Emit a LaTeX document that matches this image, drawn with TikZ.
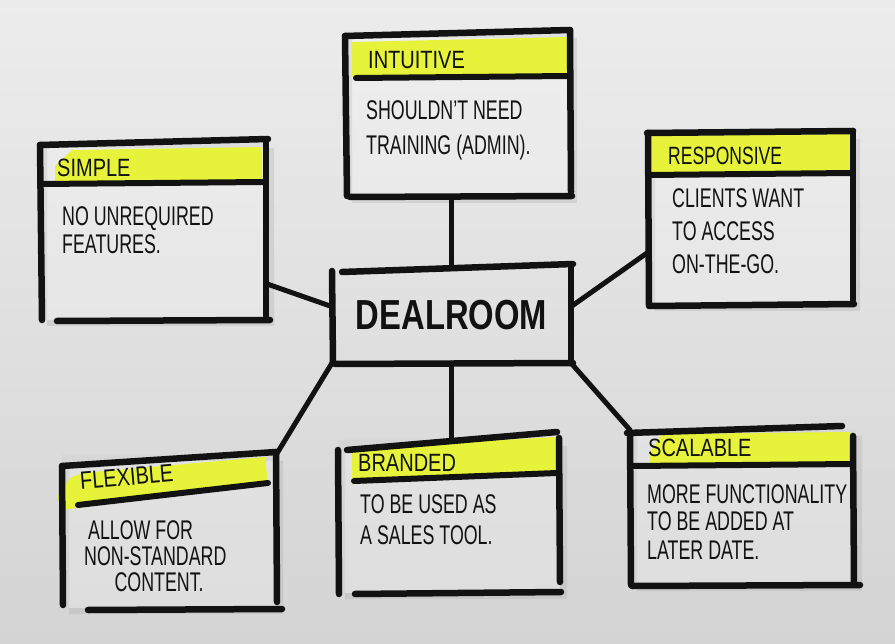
\documentclass[tikz,border=0pt]{standalone}
\usepackage{fontspec}
\setmainfont{Liberation Sans}
\usetikzlibrary{calc}
\definecolor{ink}{RGB}{18,18,18}
\definecolor{papertop}{RGB}{236,236,236}
\definecolor{paperbot}{RGB}{212,212,212}
\definecolor{hlyellow}{RGB}{230,243,58}
\definecolor{shadowgray}{RGB}{170,170,170}
\newcommand\narrow[1]{\scalebox{0.66}[1]{#1}}
\newcommand\tnarrow[1]{\scalebox{0.8}[1]{#1}}
\newcommand\lines[1]{\narrow{\begin{tabular}[t]{@{}l@{}}#1\end{tabular}}}
\tikzset{
  card/.style={rectangle, inner sep=0pt, outer sep=0pt, draw=none},
  side/.style={draw=ink, line width=6.5pt, line cap=round},
  rule/.style={draw=ink, line width=6pt, line cap=round},
  conn/.style={draw=ink, line width=5pt, line cap=round},
  hl/.style={fill=hlyellow},
  cardshade/.style={fill=shadowgray, fill opacity=0.3, even odd rule},
  cardlight/.style={fill=white, fill opacity=0.2},
  title/.style={anchor=west, inner sep=0pt, text=ink, font=\fontsize{25}{28}\selectfont},
  body/.style={anchor=base west, inner sep=0pt, text=ink, font=\fontsize{27}{#1}\selectfont},
  body/.default=31,
}
\begin{document}
\begin{tikzpicture}[x=1pt,y=-1pt]
\useasboundingbox (0,0) rectangle (895,644);
\shade[top color=papertop, bottom color=paperbot] (0,0) rectangle (895,644);

% ---- card nodes (anchors) ----
\node[card, minimum width=225pt, minimum height=165pt] (intuitive) at (457.5,114.5) {};
\node[card, minimum width=227pt, minimum height=178pt] (simple) at (153.5,231) {};
\node[card, minimum width=205pt, minimum height=172pt] (responsive) at (750.5,219) {};
\node[card, minimum width=214pt, minimum height=153pt] (flexible) at (169,531.5) {};
\node[card, minimum width=222pt, minimum height=153pt] (branded) at (449,516.5) {};
\node[card, minimum width=225pt, minimum height=155pt] (scalable) at (742.5,507.5) {};

% ---- shadows and light interiors ----
\foreach \c in {intuitive,simple,responsive,flexible,branded,scalable}{
  \fill[cardshade] ($(\c.north west)+(7,6)$) rectangle ($(\c.south east)+(7,6)$)
                   (\c.north west) rectangle (\c.south east);
  \fill[cardlight] (\c.north west) rectangle (\c.south east);
}

% ---- highlighter bands ----
\fill[hl] (352,42) -- (568,37) -- (569,74) -- (352,77) -- cycle;
\fill[hl] (72,150) -- (262,147) -- (262,183) -- (55,184) -- (55,166) -- cycle;
\fill[hl] (651,136) -- (851,134) -- (851,172) -- (651,174) -- cycle;
\fill[hl] (82,473) -- (265,457) -- (268,483) -- (62,510) -- (57,497) -- (70,478) -- cycle;
\fill[hl] (352,448) -- (557,437) -- (557,472) -- (352,484) -- cycle;
\fill[hl] (662,434) -- (850,432) -- (850,463) -- (650,465) -- (650,452) -- cycle;

% ---- intuitive ----
\draw[side] (345,36) -- (570,30);
\draw[side] (345,36) -- (347,196);
\draw[side] (570,30) -- (571,192);
\draw[side] (350,197) -- (572,196);
\draw[rule] (356,78) -- (569,76);
\node[title] (intuitive-title) at (368,60) {\tnarrow{INTUITIVE}};
\node[body=35] (intuitive-body) at (366,120) {\lines{SHOULDN'T NEED\\TRAINING (ADMIN).}};

% ---- simple ----
\draw[side] (40,145) -- (268,139);
\draw[side] (40,145) -- (42,320);
\draw[side] (266,140) -- (266,316);
\draw[side] (57,321) -- (270,320);
\draw[rule] (42,184) -- (264,182);
\node[title] (simple-title) at (57,168) {\tnarrow{SIMPLE}};
\node[body=28] (simple-body) at (62,226) {\lines{NO UNREQUIRED\\FEATURES.}};

% ---- responsive ----
\draw[side] (647,133) -- (853,131);
\draw[side] (648,133) -- (649,306);
\draw[side] (853,131) -- (853,300);
\draw[side] (650,306) -- (854,304);
\draw[rule] (649,175) -- (852,173);
\node[title] (responsive-title) at (668,156) {\scalebox{0.7}[1]{RESPONSIVE}};
\node[body=33] (responsive-body) at (672,208) {\lines{CLIENTS WANT\\TO ACCESS\\ON-THE-GO.}};

% ---- flexible ----
\draw[side] (62,466) -- (276,452);
\draw[side] (62,466) -- (63,605);
\draw[side] (276,452) -- (277,602);
\draw[side] (88,610) -- (282,609);
\draw[rule] (78,505) -- (268,483);
\node[title, rotate=5] (flexible-title) at (80,481) {\tnarrow{FLEXIBLE}};
\node[body=25] (flexible-body) at (84,539) {\lines{\hspace*{6pt}ALLOW FOR\\NON-STANDARD\\\hspace*{46pt}CONTENT.}};

% ---- branded ----
\draw[side] (347,450) -- (557,432);
\draw[side] (338,450) -- (339,594);
\draw[side] (559,438) -- (560,582);
\draw[side] (355,594) -- (561,592);
\draw[rule] (354,481) -- (557,473);
\node[title] (branded-title) at (358,463) {\tnarrow{BRANDED}};
\node[body=31] (branded-body) at (360,513) {\lines{TO BE USED AS\\A SALES TOOL.}};

% ---- scalable ----
\draw[side] (627,433) -- (842,426);
\draw[side] (630,433) -- (631,585);
\draw[side] (853,436) -- (854,583);
\draw[side] (632,586) -- (860,585);
\draw[rule] (633,466) -- (853,464);
\node[title] (scalable-title) at (648,448) {\tnarrow{SCALABLE}};
\node[body=28] (scalable-body) at (647,503) {\lines{MORE FUNCTIONALITY\\TO BE ADDED AT\\LATER DATE.}};

% ---- dealroom ----
\node[card, minimum width=239pt, minimum height=96pt, text=ink,
      font=\bfseries\fontsize{42}{46}\selectfont] (dealroom) at (451.5,315)
      {\scalebox{0.78}[1]{DEALROOM}};
\draw[side] (342,272) -- (573,264);
\draw[side] (332,271) -- (333,363);
\draw[side] (571,265) -- (571,360);
\draw[side] (335,364) -- (573,363);

% ---- connectors ----
\draw[conn] (dealroom.north |- intuitive.south) -- (dealroom.north);
\draw[conn] (simple.-25) -- (dealroom.176);
\draw[conn] (responsive.198) -- (dealroom.4);
\draw[conn] (dealroom.south west) -- (flexible.north east);
\draw[conn] (dealroom.south) -- (dealroom.south |- branded.north);
\draw[conn] (dealroom.south east) -- (scalable.north west);
\end{tikzpicture}
\end{document}
